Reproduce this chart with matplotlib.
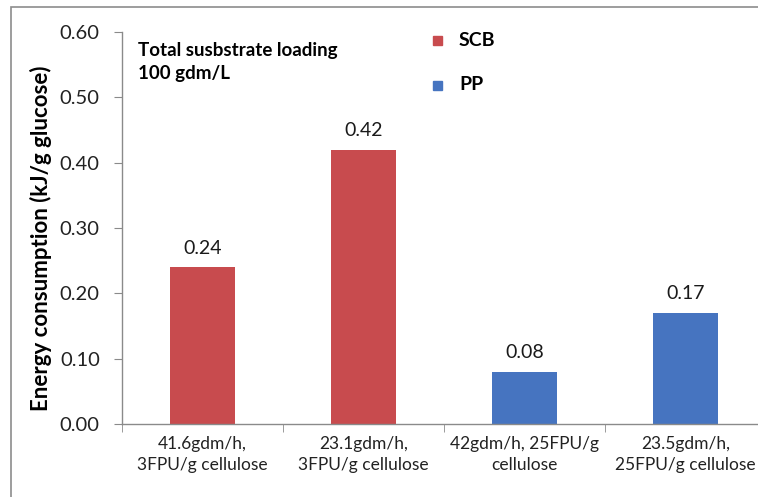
import matplotlib
matplotlib.use("Agg")
import matplotlib.pyplot as plt
from matplotlib.patches import Rectangle
import numpy as np

# energy use per gram glucose for each feeding / enzyme-loading scheme
conditions = ["41.6gdm/h,\n3FPU/g cellulose", "23.1gdm/h,\n3FPU/g cellulose",
              "42gdm/h, 25FPU/g\ncellulose", "23.5gdm/h,\n25FPU/g cellulose"]
energy = [0.24, 0.42, 0.08, 0.17]
substrate = ["SCB", "SCB", "PP", "PP"]
yticks = [0.0, 0.1, 0.2, 0.3, 0.4, 0.5, 0.6]

colours = {"SCB": "#C84B4E", "PP": "#4674C0"}
axis_grey = "#8a8a8a"

plt.rcParams["font.family"] = ["Lato", "DejaVu Sans"]

W, H = 758, 497
fig = plt.figure(figsize=(W / 100, H / 100), dpi=100)
ax = fig.add_axes([122 / W, 1 - 424 / H, 644 / W, 392 / H])

x = np.arange(len(conditions))
ax.bar(x, energy, width=0.4, color=[colours[s] for s in substrate], zorder=2)
for xi, v in zip(x, energy):
    ax.text(xi, v + 0.016, f"{v:.2f}", ha="center", va="bottom", fontsize=14, color="#1a1a1a")

ax.set_xlim(-0.5, len(conditions) - 0.5)
ax.set_ylim(0, 0.6)
ax.set_yticks(yticks)
ax.set_yticklabels([f"{t:.2f}" for t in yticks], fontsize=14.5, color="#222222")
ax.set_xticks(x)
ax.set_xticklabels(conditions, fontsize=12.5, color="#222222", linespacing=1.35)
ax.tick_params(axis="x", length=0, pad=9)
ax.set_xticks(np.arange(-0.5, len(conditions)), minor=True)
ax.tick_params(axis="x", which="minor", length=6, color=axis_grey, direction="out")
ax.tick_params(axis="y", length=6, color=axis_grey, pad=10)

for side in ("top", "right"):
    ax.spines[side].set_visible(False)
for side in ("left", "bottom"):
    ax.spines[side].set_color(axis_grey)
    ax.spines[side].set_linewidth(1)

ax.set_ylabel("Energy consumption (kJ/g glucose)", fontsize=16, fontweight="bold")
ax.yaxis.set_label_coords(-0.108, 0.475)

ax.text(0.025, 0.975, "Total susbstrate loading\n100 gdm/L", transform=ax.transAxes,
        ha="left", va="top", fontsize=13.5, fontweight="bold", linespacing=1.45)

# hand-placed legend entries
for name, yfrac in (("SCB", 1 - 40 / H), ("PP", 1 - 85 / H)):
    fig.patches.append(Rectangle((433 / W, yfrac - 4.5 / H), 9 / W, 9 / H,
                                 transform=fig.transFigure, color=colours[name]))
    fig.text(459 / W, yfrac, name, ha="left", va="center", fontsize=14, fontweight="bold")

# chart frame
fig.patches.append(Rectangle((11 / W, -0.1), 1.2, 1.1 - 7 / H, transform=fig.transFigure,
                             fill=False, edgecolor="#8c8c8c", linewidth=1.2))

fig.savefig("out.png", dpi=100)
